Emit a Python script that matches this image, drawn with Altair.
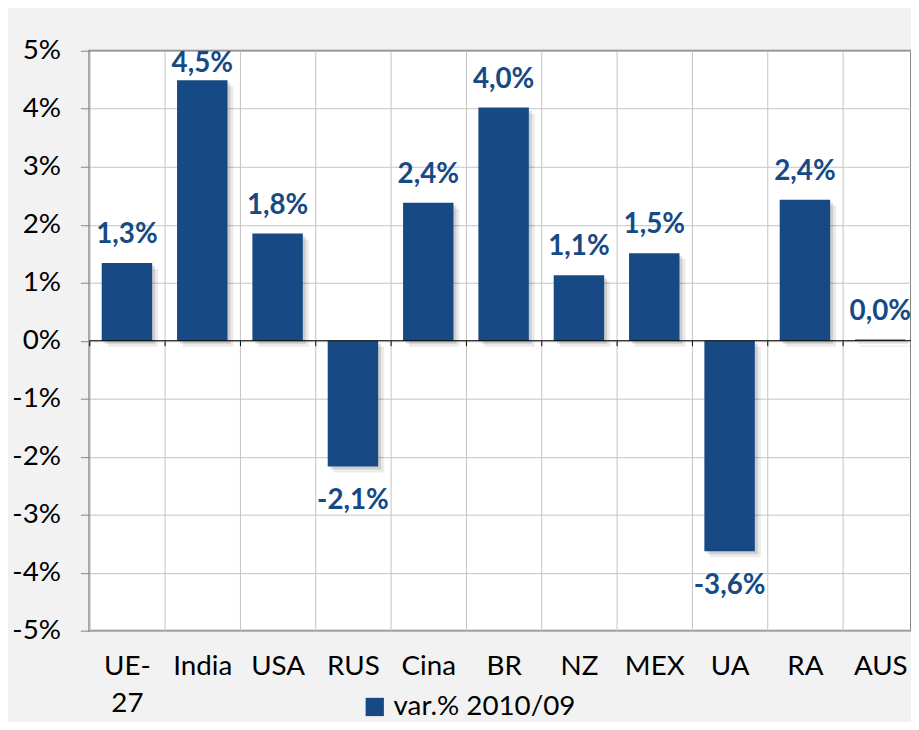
import altair as alt
import pandas as pd

categories = ["UE-27", "India", "USA", "RUS", "Cina", "BR", "NZ", "MEX", "UA", "RA", "AUS"]
values = [1.34, 4.49, 1.85, -2.17, 2.38, 4.02, 1.13, 1.51, -3.63, 2.43, 0.02]
labels = ["1,3%", "4,5%", "1,8%", "-2,1%", "2,4%", "4,0%", "1,1%", "1,5%", "-3,6%", "2,4%", "0,0%"]
series_name = "var.% 2010/09"
y_ticks = [-5, -4, -3, -2, -1, 0, 1, 2, 3, 4, 5]

BAR = "#174a85"
FONT = "Lato"

df = pd.DataFrame({"cat": categories, "value": values, "label": labels, "series": series_name})

xscale = alt.Scale(domain=categories, range=[0, 836], paddingInner=0, paddingOuter=0)
yscale = alt.Scale(domain=[-5, 5], nice=False, zero=False)

y_axis = alt.Axis(
    title=None, values=y_ticks, labelExpr="datum.value + '%'", labelFont=FONT,
    labelFontSize=28, labelColor="#000000", tickSize=9, tickColor="#868686",
    labelPadding=20, domain=False, grid=True, gridColor="#c3c3c3", gridWidth=1,
)


def Y(field):
    return alt.Y(field, scale=yscale, axis=y_axis)


x_main = alt.X(
    "cat:N", scale=xscale, sort=categories,
    axis=alt.Axis(
        title=None, labelAngle=0, labelFont=FONT, labelFontSize=28, labelColor="#000000",
        ticks=False, tickSize=0, domain=False, grid=True, gridColor="#c3c3c3", gridWidth=1,
        tickBand="extent", labelPadding=22, labelLineHeight=38, labelBaseline="top",
        labelExpr="datum.value == 'UE-27' ? ['UE-', '27'] : datum.value",
    ),
)

base = alt.Chart(df)

shadow1 = base.mark_bar(width={"band": 0.67}, color="#000000", opacity=0.08, xOffset=6, yOffset=6).encode(
    x=alt.X("cat:N", scale=xscale, sort=categories, axis=None), y=Y("value:Q")
)
shadow2 = base.mark_bar(width={"band": 0.67}, color="#000000", opacity=0.12, xOffset=3, yOffset=3).encode(
    x=alt.X("cat:N", scale=xscale, sort=categories, axis=None), y=Y("value:Q")
)

bars = base.mark_bar(width={"band": 0.67}).encode(
    x=x_main,
    y=Y("value:Q"),
    color=alt.Color(
        "series:N", scale=alt.Scale(range=[BAR]),
        legend=alt.Legend(
            title=None, orient="none", legendX=274, legendY=648, symbolType="square",
            symbolSize=340, symbolStrokeWidth=0, labelFont=FONT, labelFontSize=28,
            labelColor="#000000", labelOffset=5, padding=0, labelLimit=500,
        ),
    ),
)

zero_rule = alt.Chart(pd.DataFrame({"z": [0]})).mark_rule(color="#000000", strokeWidth=1).encode(
    y=Y("z:Q")
)

tick_layer = base.mark_point(opacity=0).encode(
    x=alt.X(
        "cat:N", scale=xscale, sort=categories,
        axis=alt.Axis(
            orient="bottom", offset=-292.5, title=None, labels=False, domain=False, grid=False,
            ticks=True, tickSize=5, tickColor="#000000", tickBand="extent",
        ),
    ),
    y=Y("value:Q"),
)

pos_text = base.transform_filter("datum.value >= 0").transform_calculate(
    ly="min(datum.value, 4.3)"
).mark_text(font=FONT, fontSize=28, fontWeight="bold", color=BAR, baseline="middle", dy=-28).encode(
    x=alt.X("cat:N", scale=xscale, sort=categories, axis=None),
    y=Y("ly:Q"),
    text="label:N",
)
neg_text = base.transform_filter("datum.value < 0").mark_text(
    font=FONT, fontSize=28, fontWeight="bold", color=BAR, baseline="middle", dy=35
).encode(
    x=alt.X("cat:N", scale=xscale, sort=categories, axis=None),
    y=Y("value:Q"),
    text="label:N",
)

chart = alt.layer(shadow1, shadow2, bars, zero_rule, tick_layer, pos_text, neg_text).resolve_axis(
    x="independent"
).properties(
    width=829, height=585,
    autosize=alt.AutoSizeParams(type="none"),
    padding={"left": 82, "top": 40, "right": 0, "bottom": 89},
    background="#f2f2f2",
).configure_view(
    fill="#ffffff", stroke="#868686", strokeWidth=2
)

chart.save("out.html", embed_options={"renderer": "svg", "actions": False})
